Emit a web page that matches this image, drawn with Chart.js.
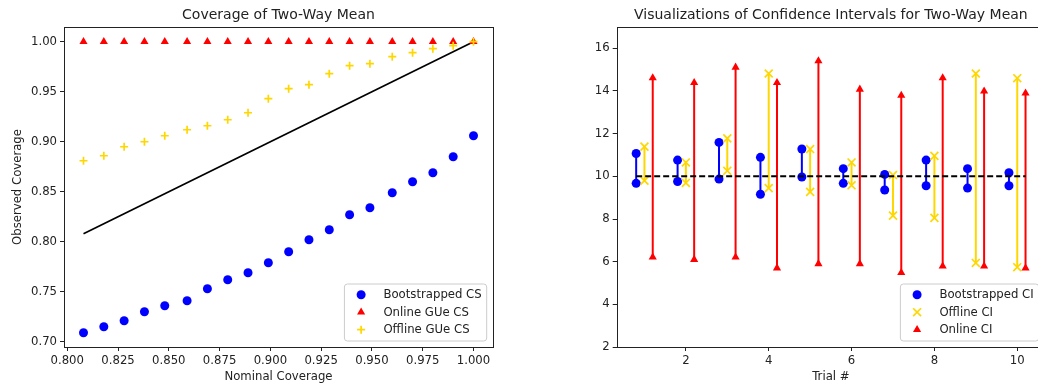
<!DOCTYPE html>
<html>
<head>
<meta charset="utf-8">
<script src="https://cdn.jsdelivr.net/npm/chart.js@4.4.1/dist/chart.umd.min.js"></script>
<style>
  html, body { margin: 0; padding: 0; background: #fff; overflow: hidden; }
  #wrap { position: relative; width: 1038px; height: 389px; overflow: hidden; }
  #coverage { position: absolute; left: 0; top: 0; }
  #intervals { position: absolute; left: 520px; top: 0; }
</style>
</head>
<body>
<div id="wrap">
  <canvas id="coverage" width="520" height="389"></canvas>
  <canvas id="intervals" width="540" height="389"></canvas>
</div>
<script>
// ---- left chart data: coverage ----
const nominal = [0.808, 0.818, 0.828, 0.838, 0.848, 0.859, 0.869, 0.879, 0.889, 0.899,
                 0.909, 0.919, 0.929, 0.939, 0.949, 0.960, 0.970, 0.980, 0.990, 1.000];
const bootstrappedCS = [0.709, 0.715, 0.721, 0.730, 0.736, 0.741, 0.753, 0.762, 0.769, 0.779,
                        0.790, 0.802, 0.812, 0.827, 0.834, 0.849, 0.860, 0.869, 0.885, 0.906];
const onlineCS = [1.000, 1.000, 1.000, 1.000, 1.000, 1.000, 1.000, 1.000, 1.000, 1.000,
                  1.000, 1.000, 1.000, 1.000, 1.000, 1.000, 1.000, 1.000, 1.000, 1.000];
const offlineCS = [0.881, 0.886, 0.895, 0.900, 0.906, 0.912, 0.916, 0.922, 0.929, 0.943,
                   0.953, 0.957, 0.968, 0.976, 0.978, 0.985, 0.989, 0.993, 0.996, 1.000];
const coverageXTicks = [0.800, 0.825, 0.850, 0.875, 0.900, 0.925, 0.950, 0.975, 1.000];
const coverageYTicks = [0.70, 0.75, 0.80, 0.85, 0.90, 0.95, 1.00];

// ---- right chart data: confidence intervals per trial ----
const trials = [1, 2, 3, 4, 5, 6, 7, 8, 9, 10];
const bootLow  = [9.67, 9.76, 9.87, 9.16, 9.97, 9.67, 9.36, 9.56, 9.45, 9.56];
const bootHigh = [11.07, 10.76, 11.59, 10.89, 11.28, 10.36, 10.09, 10.76, 10.36, 10.17];
const offLow   = [9.80, 9.69, 10.26, 9.45, 9.27, 9.58, 8.16, 8.05, 5.94, 5.74];
const offHigh  = [11.39, 10.65, 11.78, 14.82, 11.28, 10.65, 10.06, 10.96, 14.82, 14.60];
const onLow    = [6.21, 6.10, 6.21, 5.70, 5.90, 5.90, 5.48, 5.79, 5.79, 5.70];
const onHigh   = [14.61, 14.39, 15.11, 14.39, 15.41, 14.08, 13.79, 14.61, 13.99, 13.90];
const trueMean = 10;
const trialXTicks = [2, 4, 6, 8, 10];
const trialYTicks = [2, 4, 6, 8, 10, 12, 14, 16];

const FONT = 'DejaVu Sans';
const INK = '#222';
const BLUE = '#0000ff';
const RED = '#ff0000';
const GOLD = '#ffd700';

Chart.defaults.font.family = FONT;
Chart.defaults.font.size = 11.7;
Chart.defaults.color = INK;

// frame around the plot area (matplotlib spines)
const frame = {
  id: 'frame',
  afterDraw(chart) {
    const { ctx, chartArea: a } = chart;
    ctx.save();
    ctx.strokeStyle = INK;
    ctx.lineWidth = 1;
    ctx.strokeRect(Math.round(a.left) + 0.5, Math.round(a.top) + 0.5,
      Math.round(a.right - a.left), Math.round(a.bottom - a.top));
    ctx.restore();
  },
};

// legend box in the lower right corner of the plot area
const cornerLegend = {
  id: 'cornerLegend',
  afterDraw(chart) {
    const { ctx, chartArea: a } = chart;
    const items = chart.data.datasets.filter((d) => d.label);
    const order = chart.options.plugins.cornerLegend.order;
    const list = order.map((i) => items[i]);
    ctx.save();
    ctx.font = '11.7px "' + FONT + '"';
    let textW = 0;
    list.forEach((d) => { textW = Math.max(textW, ctx.measureText(d.label).width); });
    const w = 39 + textW + 5;
    const h = 57;
    const right = a.right - 6.3;
    const bottom = a.bottom - 6;
    const left = right - w;
    const top = bottom - h;
    ctx.beginPath();
    ctx.roundRect(left, top, w, h, 3);
    ctx.fillStyle = 'rgba(255,255,255,0.8)';
    ctx.fill();
    ctx.strokeStyle = '#cccccc';
    ctx.lineWidth = 1;
    ctx.stroke();
    list.forEach((d, i) => {
      const y = top + 10.7 + i * 17.5;
      ctx.fillStyle = d.pointBackgroundColor;
      ctx.strokeStyle = d.pointBorderColor;
      ctx.lineWidth = d.pointBorderWidth;
      Chart.helpers.drawPoint(ctx, {
        pointStyle: d.pointStyle,
        radius: d.pointRadius,
        rotation: 0,
        borderWidth: d.pointBorderWidth,
      }, left + 16.7, y);
      ctx.fillStyle = INK;
      ctx.textBaseline = 'middle';
      ctx.textAlign = 'left';
      ctx.fillText(d.label, left + 39, y + 0.5);
    });
    ctx.restore();
  },
};

function axis(min, max, ticks, fmt, opts) {
  return Object.assign({
    type: 'linear',
    min: min,
    max: max,
    afterBuildTicks: (scale) => { scale.ticks = ticks.map((v) => ({ value: v })); },
    ticks: { callback: (v) => fmt(v), autoSkip: false, maxRotation: 0, padding: 3, color: INK },
    grid: { display: true, drawOnChartArea: false, drawTicks: true, tickLength: 4, color: INK, tickColor: INK },
    border: { display: false },
  }, opts);
}

function pairs(xs, ys) {
  return xs.map((x, i) => ({ x: x, y: ys[i] }));
}

// bars from low to high, with a gap between trials
function intervals(offset, low, high) {
  const out = [];
  trials.forEach((t, i) => {
    out.push({ x: t + offset, y: low[i] });
    out.push({ x: t + offset, y: high[i] });
    out.push({ x: t + offset, y: null });
  });
  return out;
}

// ---- left chart ----
new Chart(document.getElementById('coverage'), {
  type: 'scatter',
  data: {
    datasets: [
      {
        label: 'Offline GUe CS',
        data: pairs(nominal, offlineCS),
        pointStyle: 'cross',
        pointRadius: 4,
        pointBorderWidth: 1.7,
        pointBackgroundColor: GOLD,
        pointBorderColor: GOLD,
        order: 1,
      },
      {
        label: 'Online GUe CS',
        data: pairs(nominal, onlineCS),
        pointStyle: 'triangle',
        pointRadius: 4.7,
        pointBorderWidth: 0,
        pointBackgroundColor: RED,
        pointBorderColor: RED,
        order: 2,
      },
      {
        label: 'Bootstrapped CS',
        data: pairs(nominal, bootstrappedCS),
        pointStyle: 'circle',
        pointRadius: 4.5,
        pointBorderWidth: 0,
        pointBackgroundColor: BLUE,
        pointBorderColor: BLUE,
        order: 3,
      },
      {
        data: [{ x: nominal[0], y: nominal[0] }, { x: nominal[nominal.length - 1], y: nominal[nominal.length - 1] }],
        showLine: true,
        borderColor: '#000',
        borderWidth: 1.7,
        pointRadius: 0,
        order: 4,
      },
    ],
  },
  options: {
    responsive: false,
    animation: false,
    layout: { padding: { left: 0, right: 27, top: 0, bottom: 0 } },
    scales: {
      x: axis(0.7984, 1.0096, coverageXTicks, (v) => v.toFixed(3), {
        afterFit: (s) => { s.height = 42; },
        title: { display: true, text: 'Nominal Coverage', padding: { top: 0, bottom: 5.3 }, color: INK },
      }),
      y: axis(0.6948, 1.0147, coverageYTicks, (v) => v.toFixed(2), {
        afterFit: (s) => { s.width = 64; },
        title: { display: true, text: 'Observed Coverage', padding: { top: 11.3, bottom: 0 }, color: INK },
      }),
    },
    plugins: {
      legend: { display: false },
      tooltip: { enabled: false },
      title: {
        display: true,
        text: 'Coverage of Two-Way Mean',
        fullSize: false,
        color: INK,
        font: { size: 14, weight: 'normal' },
        padding: { top: 7, bottom: 3.2 },
      },
      cornerLegend: { order: [2, 1, 0] },
    },
  },
  plugins: [frame, cornerLegend],
});

// ---- right chart ----
new Chart(document.getElementById('intervals'), {
  type: 'scatter',
  data: {
    datasets: [
      {
        label: 'Bootstrapped CI',
        data: intervals(-0.2, bootLow, bootHigh),
        showLine: true,
        spanGaps: false,
        borderColor: BLUE,
        borderWidth: 2,
        pointStyle: 'circle',
        pointRadius: 4.5,
        pointBorderWidth: 0,
        pointBackgroundColor: BLUE,
        pointBorderColor: BLUE,
        order: 4,
      },
      {
        label: 'Offline CI',
        data: intervals(0, offLow, offHigh),
        showLine: true,
        spanGaps: false,
        borderColor: GOLD,
        borderWidth: 2,
        pointStyle: 'crossRot',
        pointRadius: 5.6,
        pointBorderWidth: 1.7,
        pointBackgroundColor: GOLD,
        pointBorderColor: GOLD,
        order: 3,
      },
      {
        label: 'Online CI',
        data: intervals(0.2, onLow, onHigh),
        showLine: true,
        spanGaps: false,
        borderColor: RED,
        borderWidth: 2,
        pointStyle: 'triangle',
        pointRadius: 4.7,
        pointBorderWidth: 0,
        pointBackgroundColor: RED,
        pointBorderColor: RED,
        order: 2,
      },
      {
        data: [{ x: trials[0] - 0.2, y: trueMean }, { x: trials[trials.length - 1] + 0.2, y: trueMean }],
        showLine: true,
        borderColor: '#000',
        borderWidth: 2,
        borderDash: [6, 3],
        pointRadius: 0,
        order: 1,
      },
    ],
  },
  options: {
    responsive: false,
    animation: false,
    layout: { padding: { left: 0, right: 15, top: 0, bottom: 0 } },
    scales: {
      x: axis(0.33, 10.67, trialXTicks, (v) => String(v), {
        afterFit: (s) => { s.height = 42; },
        title: { display: true, text: 'Trial #', padding: { top: 0, bottom: 5.3 }, color: INK },
      }),
      y: axis(2, 17, trialYTicks, (v) => String(v), {
        afterFit: (s) => { s.width = 96.7; },
      }),
    },
    plugins: {
      legend: { display: false },
      tooltip: { enabled: false },
      title: {
        display: true,
        text: 'Visualizations of Confidence Intervals for Two-Way Mean',
        fullSize: false,
        color: INK,
        font: { size: 14, weight: 'normal' },
        padding: { top: 7, bottom: 3.2 },
      },
      cornerLegend: { order: [0, 1, 2] },
    },
  },
  plugins: [frame, cornerLegend],
});
</script>
</body>
</html>
